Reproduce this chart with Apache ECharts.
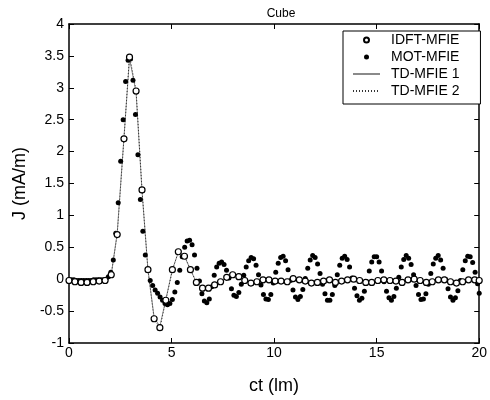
<!DOCTYPE html>
<html>
<head>
<meta charset="utf-8">
<script src="https://cdn.jsdelivr.net/npm/echarts@6/dist/echarts.min.js"></script>
<style>html,body{margin:0;padding:0;background:#fff}#c{width:490px;height:400px}</style>
</head>
<body>
<div id="c"></div>
<script>
const titleText = 'Cube';
const xName = 'ct (lm)';
const yName = 'J (mA/m)';
const seriesNames = ['IDFT-MFIE', 'MOT-MFIE', 'TD-MFIE 1', 'TD-MFIE 2'];

// IDFT-MFIE (open circles)
const idftData = [
  [0.00,-0.02],[0.29,-0.04],[0.59,-0.05],[0.88,-0.05],[1.18,-0.04],[1.47,-0.03],[1.76,-0.02],
  [2.06,0.07],[2.35,0.70],[2.68,2.20],[2.95,3.48],[3.27,2.95],[3.56,1.40],[3.85,0.15],
  [4.15,-0.62],[4.43,-0.76],[4.72,-0.33],[5.04,0.15],[5.33,0.43],[5.63,0.36],[5.92,0.15],
  [6.21,-0.05],[6.51,-0.14],[6.80,-0.14],[7.10,-0.09],[7.39,-0.04],[7.69,0.03],[7.98,0.07],
  [8.28,0.04],[8.57,-0.02],[8.87,-0.06],[9.16,-0.04],[9.46,-0.01],[9.75,-0.01],[10.05,-0.03],
  [10.34,-0.03],[10.64,-0.04],[10.93,0.01],[11.23,-0.01],[11.52,-0.03],[11.82,-0.06],[12.11,-0.05],
  [12.41,-0.03],[12.70,-0.01],[12.99,-0.05],[13.29,-0.03],[13.58,-0.01],[13.88,0.00],[14.17,-0.02],
  [14.47,-0.05],[14.76,-0.05],[15.06,-0.02],[15.35,-0.01],[15.65,-0.02],[15.94,-0.03],[16.24,-0.05],
  [16.53,-0.01],[16.83,0.00],[17.12,-0.02],[17.42,-0.05],[17.71,-0.04],[18.01,-0.01],[18.30,-0.01],
  [18.60,-0.04],[18.89,-0.06],[19.19,-0.04],[19.48,-0.01],[19.78,-0.01],[20.00,-0.02]
];

// MOT-MFIE (filled dots)
const motData = [
  [0.00,-0.01],[0.12,-0.01],[0.24,-0.01],[0.36,-0.02],[0.48,-0.02],[0.60,-0.02],[0.72,-0.02],
  [0.84,-0.02],[0.96,-0.02],[1.08,-0.02],[1.20,-0.01],[1.32,-0.01],[1.44,-0.01],[1.56,-0.01],
  [1.68,-0.01],[1.80,0.00],[1.92,0.04],[2.04,0.11],[2.16,0.30],[2.28,0.72],[2.40,1.20],
  [2.52,1.85],[2.64,2.50],[2.76,3.10],[2.88,3.43],[3.00,3.45],[3.12,3.12],[3.24,2.58],
  [3.36,1.95],[3.48,1.25],[3.60,0.75],[3.72,0.38],[3.84,0.14],[3.96,-0.02],[4.08,-0.10],
  [4.20,-0.17],[4.32,-0.22],[4.44,-0.28],[4.56,-0.33],[4.68,-0.38],[4.80,-0.40],[4.92,-0.38],
  [5.04,-0.32],[5.16,-0.20],[5.28,-0.05],[5.40,0.14],[5.52,0.35],[5.64,0.50],[5.76,0.60],
  [5.88,0.61],[6.00,0.54],[6.12,0.38],[6.24,0.17],[6.36,-0.03],[6.48,-0.23],[6.60,-0.34],
  [6.72,-0.37],[6.84,-0.31],[6.96,-0.12],[7.08,0.06],[7.20,0.19],[7.32,0.25],[7.44,0.27],
  [7.56,0.23],[7.68,0.14],[7.80,0.02],[7.92,-0.15],[8.04,-0.25],[8.16,-0.27],[8.28,-0.21],
  [8.40,-0.08],[8.52,0.06],[8.64,0.19],[8.76,0.29],[8.88,0.34],[9.00,0.32],[9.12,0.22],
  [9.24,0.07],[9.36,-0.09],[9.48,-0.24],[9.60,-0.31],[9.72,-0.32],[9.84,-0.24],[9.96,-0.06],
  [10.08,0.11],[10.20,0.25],[10.32,0.34],[10.44,0.36],[10.56,0.29],[10.68,0.15],[10.80,-0.02],
  [10.92,-0.17],[11.04,-0.28],[11.16,-0.32],[11.28,-0.27],[11.40,-0.16],[11.52,0.01],[11.64,0.17],
  [11.76,0.30],[11.88,0.37],[12.00,0.34],[12.12,0.24],[12.24,0.09],[12.36,-0.08],[12.48,-0.23],
  [12.60,-0.33],[12.72,-0.33],[12.84,-0.24],[12.96,-0.10],[13.08,0.07],[13.20,0.22],[13.32,0.33],
  [13.44,0.36],[13.56,0.31],[13.68,0.19],[13.80,0.02],[13.92,-0.14],[14.04,-0.26],[14.16,-0.33],
  [14.28,-0.30],[14.40,-0.19],[14.52,-0.04],[14.64,0.13],[14.76,0.27],[14.88,0.35],[15.00,0.35],
  [15.12,0.27],[15.24,0.13],[15.36,-0.04],[15.48,-0.19],[15.60,-0.29],[15.72,-0.33],[15.84,-0.27],
  [15.96,-0.14],[16.08,0.03],[16.20,0.19],[16.32,0.31],[16.44,0.37],[16.56,0.33],[16.68,0.23],
  [16.80,0.07],[16.92,-0.10],[17.04,-0.24],[17.16,-0.32],[17.28,-0.31],[17.40,-0.23],[17.52,-0.08],
  [17.64,0.09],[17.76,0.24],[17.88,0.33],[18.00,0.37],[18.12,0.30],[18.24,0.17],[18.36,0.00],
  [18.48,-0.15],[18.60,-0.28],[18.72,-0.33],[18.84,-0.29],[18.96,-0.18],[19.08,-0.02],[19.20,0.15],
  [19.32,0.29],[19.44,0.36],[19.56,0.35],[19.68,0.26],[19.80,0.11],[19.92,-0.07],[20.00,-0.22]
];

// TD-MFIE 1 (solid line)
const td1Data = [
  [0.00,-0.02],[0.29,-0.03],[0.59,-0.04],[0.88,-0.04],[1.18,-0.04],[1.47,-0.03],[1.76,-0.02],
  [2.06,0.07],[2.35,0.72],[2.68,2.22],[2.95,3.46],[3.27,2.93],[3.56,1.38],[3.85,0.15],
  [4.15,-0.60],[4.43,-0.74],[4.72,-0.32],[5.04,0.15],[5.33,0.42],[5.63,0.36],[5.92,0.15],
  [6.21,-0.05],[6.51,-0.13],[6.80,-0.13],[7.10,-0.08],[7.39,-0.03],[7.69,0.03],[7.98,0.06],
  [8.28,0.03],[8.57,-0.02],[8.87,-0.05],[9.16,-0.04],[9.46,-0.02],[9.75,-0.01],[10.05,-0.02],
  [10.64,-0.03],[11.23,-0.01],[11.82,-0.04],[12.41,-0.02],[12.99,-0.03],[13.58,-0.01],[14.17,-0.02],
  [14.76,-0.04],[15.35,-0.01],[15.94,-0.02],[16.53,-0.01],[17.12,-0.02],[17.71,-0.03],[18.30,-0.01],
  [18.89,-0.04],[19.48,-0.01],[20.00,-0.02]
];

// TD-MFIE 2 (dotted line)
const td2Data = [
  [0.00,-0.02],[0.29,-0.03],[0.59,-0.04],[0.88,-0.04],[1.18,-0.03],[1.47,-0.03],[1.76,-0.02],
  [2.06,0.08],[2.35,0.70],[2.68,2.20],[2.95,3.50],[3.27,2.96],[3.56,1.40],[3.85,0.14],
  [4.15,-0.62],[4.43,-0.77],[4.72,-0.33],[5.04,0.14],[5.33,0.43],[5.63,0.37],[5.92,0.15],
  [6.21,-0.05],[6.51,-0.14],[6.80,-0.14],[7.10,-0.09],[7.39,-0.04],[7.69,0.03],[7.98,0.07],
  [8.28,0.04],[8.57,-0.02],[8.87,-0.06],[9.16,-0.04],[9.46,-0.01],[9.75,-0.01],[10.05,-0.03],
  [10.64,-0.04],[11.23,-0.01],[11.82,-0.05],[12.41,-0.03],[12.99,-0.04],[13.58,-0.01],[14.17,-0.02],
  [14.76,-0.05],[15.35,-0.01],[15.94,-0.03],[16.53,-0.01],[17.12,-0.02],[17.71,-0.04],[18.30,-0.01],
  [18.89,-0.05],[19.48,-0.01],[20.00,-0.02]
];

const FONT = '"Liberation Sans", Arial, sans-serif';
const chart = echarts.init(document.getElementById('c'), null, {renderer: 'canvas'});

const axisLine = {show: true, onZero: false, lineStyle: {color: '#000', width: 1.5}};
const tick = {show: true, inside: true, length: 5, lineStyle: {color: '#000', width: 1}};

chart.setOption({
  animation: false,
  backgroundColor: '#fff',
  title: {
    text: titleText, left: 276, top: 3, textAlign: 'center',
    textStyle: {fontFamily: FONT, fontSize: 12, fontWeight: 'normal', color: '#000'}
  },
  grid: {left: 69, right: 7, top: 24, bottom: 49, containLabel: false},
  legend: {
    data: [
      {name: seriesNames[0]},
      {name: seriesNames[1]},
      {name: seriesNames[2], itemStyle: {opacity: 0}},
      {name: seriesNames[3], itemStyle: {opacity: 0}}
    ],
    orient: 'vertical',
    left: 343, top: 31,
    padding: [1, 21, 5, 9],
    itemGap: 1,
    itemWidth: 27, itemHeight: 5,
    backgroundColor: '#fff',
    borderColor: '#000', borderWidth: 1,
    textStyle: {fontFamily: FONT, fontSize: 14, color: '#000', lineHeight: 16, padding: [0, 0, 0, 6]}
  },
  xAxis: [{
    type: 'value', min: 0, max: 20, interval: 5, position: 'bottom',
    name: xName, nameLocation: 'middle', nameGap: 34,
    nameTextStyle: {fontFamily: FONT, fontSize: 18, color: '#000'},
    axisLine: axisLine, axisTick: tick,
    axisLabel: {fontFamily: FONT, fontSize: 14, color: '#000', margin: 3},
    splitLine: {show: false}
  }, {
    type: 'value', min: 0, max: 20, interval: 5, position: 'top',
    axisLine: axisLine, axisTick: tick, axisLabel: {show: false}, splitLine: {show: false}
  }],
  yAxis: [{
    type: 'value', min: -1, max: 4, interval: 0.5, position: 'left',
    name: yName, nameLocation: 'middle', nameGap: 40, nameRotate: 90,
    nameTextStyle: {fontFamily: FONT, fontSize: 18, color: '#000'},
    axisLine: axisLine, axisTick: tick,
    axisLabel: {fontFamily: FONT, fontSize: 14, color: '#000', margin: 5},
    splitLine: {show: false}
  }, {
    type: 'value', min: -1, max: 4, interval: 0.5, position: 'right',
    axisLine: axisLine, axisTick: tick, axisLabel: {show: false}, splitLine: {show: false}
  }],
  series: [{
    name: seriesNames[2], type: 'line', data: td1Data, symbol: 'none', z: 2,
    lineStyle: {color: '#8a8a8a', width: 1, type: 'solid'}, itemStyle: {color: '#8a8a8a'}
  }, {
    name: seriesNames[3], type: 'line', data: td2Data, symbol: 'none', z: 3,
    lineStyle: {color: '#333', width: 1, type: [1, 2]}, itemStyle: {color: '#333'}
  }, {
    name: seriesNames[1], type: 'scatter', data: motData, symbol: 'circle', symbolSize: 5, z: 4,
    itemStyle: {color: '#000', opacity: 1}
  }, {
    name: seriesNames[0], type: 'scatter', data: idftData, symbol: 'circle', symbolSize: 6, z: 5,
    itemStyle: {color: '#fff', borderColor: '#000', borderWidth: 1.2, opacity: 1}
  }]
});
</script>
</body>
</html>
